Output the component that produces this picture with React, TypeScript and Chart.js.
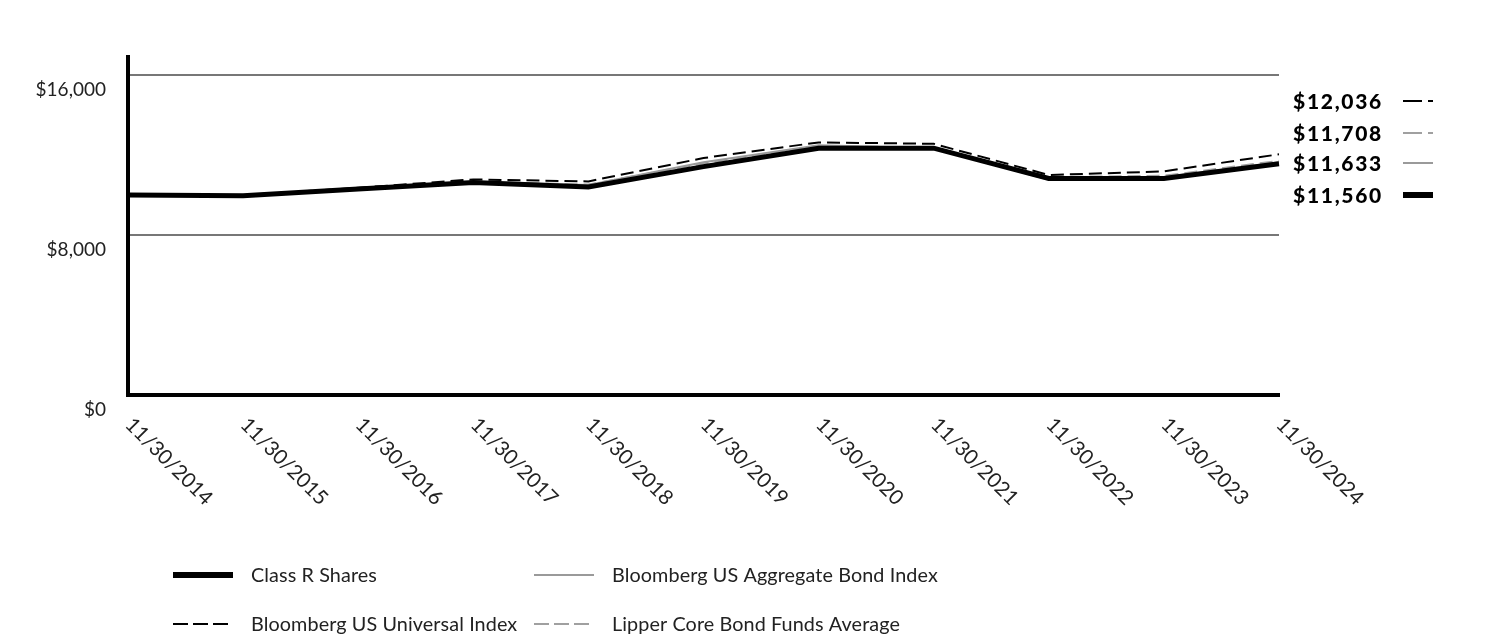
import React, { useEffect, useRef } from 'react';
import { Chart, registerables } from 'chart.js';

Chart.register(...registerables);

const CATEGORIES = [
  '11/30/2014', '11/30/2015', '11/30/2016', '11/30/2017', '11/30/2018', '11/30/2019',
  '11/30/2020', '11/30/2021', '11/30/2022', '11/30/2023', '11/30/2024',
];
const CLASS_R = [10000, 9960, 10300, 10620, 10400, 11420, 12340, 12340, 10830, 10830, 11560];
const AGGREGATE = [10000, 9985, 10316, 10647, 10505, 11639, 12486, 12342, 10757, 10884, 11633];
const UNIVERSAL = [10000, 9990, 10360, 10780, 10680, 11850, 12630, 12560, 11000, 11180, 12036];
const LIPPER = [10000, 9975, 10330, 10680, 10520, 11580, 12440, 12380, 10900, 10960, 11708];
const Y_TICKS = [0, 8000, 16000];
const Y_MAX = 16900;

const SERIES = [
  { name: 'Class R Shares', data: CLASS_R, color: '#000000', width: 5, dash: [] as number[] },
  { name: 'Bloomberg US Aggregate Bond Index', data: AGGREGATE, color: '#9a9a9a', width: 2, dash: [] as number[] },
  { name: 'Bloomberg US Universal Index', data: UNIVERSAL, color: '#000000', width: 2, dash: [13, 6] },
  { name: 'Lipper Core Bond Funds Average', data: LIPPER, color: '#a0a0a0', width: 2, dash: [13, 6] },
];

const FONT = 'Lato, "Open Sans", sans-serif';
const TEXT_COLOR = '#222222';

const fmt = (v: number) => '$' + Math.round(v).toLocaleString('en-US');

const overlayPlugin = {
  id: 'overlay',
  afterDraw(chart: any) {
    const ctx = chart.ctx as CanvasRenderingContext2D;
    const xScale = chart.scales.x;
    const yScale = chart.scales.y;
    ctx.save();
    // rotated x labels
    ctx.fillStyle = TEXT_COLOR;
    ctx.font = `20.5px ${FONT}`;
    ctx.textAlign = 'left';
    ctx.textBaseline = 'top';
    CATEGORIES.forEach((c, i) => {
      const x = xScale.getPixelForValue(i);
      ctx.save();
      ctx.translate(x + 8, yScale.bottom + 19);
      ctx.rotate(Math.PI / 4);
      ctx.fillText(c, 0, 0);
      ctx.restore();
    });

    // end value labels, sorted by final value
    const ends = SERIES.map((s) => ({ s, v: s.data[s.data.length - 1] })).sort((a, b) => b.v - a.v);
    const rowsY = [101, 133, 163, 195];
    ends.forEach((e, i) => {
      const y = rowsY[i];
      ctx.font = `900 21px ${FONT}`;
      (ctx as any).letterSpacing = '1.7px';
      ctx.fillStyle = '#000';
      ctx.textAlign = 'right';
      ctx.textBaseline = 'middle';
      ctx.fillText(fmt(e.v), 1383, y + 1);
      (ctx as any).letterSpacing = '0px';
      ctx.beginPath();
      ctx.strokeStyle = e.s.color;
      ctx.lineWidth = e.s.width === 5 ? 6 : 2;
      ctx.setLineDash(e.s.dash.length ? [19, 6] : []);
      ctx.moveTo(1403, y);
      ctx.lineTo(1433, y);
      ctx.stroke();
      ctx.setLineDash([]);
    });

    // legend
    const legendPos = [
      { x: 173, y: 575 },
      { x: 534, y: 575 },
      { x: 173, y: 624 },
      { x: 534, y: 624 },
    ];
    SERIES.forEach((s, i) => {
      const p = legendPos[i];
      ctx.beginPath();
      ctx.strokeStyle = s.color;
      ctx.lineWidth = s.width === 5 ? 6 : 2;
      ctx.setLineDash(s.dash.length ? [15, 5] : []);
      ctx.moveTo(p.x, p.y);
      ctx.lineTo(p.x + 60, p.y);
      ctx.stroke();
      ctx.setLineDash([]);
      ctx.fillStyle = TEXT_COLOR;
      ctx.font = `19.8px ${FONT}`;
      (ctx as any).letterSpacing = '0.1px';
      ctx.textAlign = 'left';
      ctx.textBaseline = 'middle';
      ctx.fillText(s.name, p.x + 78, p.y + 1);
      (ctx as any).letterSpacing = '0px';
    });
    ctx.restore();
  },
};

export default function App() {
  const ref = useRef<HTMLCanvasElement | null>(null);
  useEffect(() => {
    if (!ref.current) return;
    const chart = new Chart(ref.current, {
      type: 'line',
      data: {
        labels: CATEGORIES,
        datasets: SERIES.map((s, i) => ({
          label: s.name,
          data: s.data,
          borderColor: s.color,
          borderWidth: s.width,
          borderDash: s.dash,
          pointRadius: 0,
          tension: 0,
          fill: false,
          order: i,
          borderJoinStyle: 'miter' as const,
        })),
      },
      options: {
        animation: false,
        responsive: false,
        devicePixelRatio: 1,
        layout: { padding: { left: 0, right: 233, top: 57, bottom: 241 } },
        plugins: { legend: { display: false }, tooltip: { enabled: false } },
        scales: {
          x: {
            type: 'category',
            offset: false,
            grid: { display: false, drawTicks: false },
            border: { display: true, color: '#000', width: 4 },
            ticks: { display: false },
            afterFit: (s: any) => { s.height = 0; },
          },
          y: {
            type: 'linear',
            min: 0,
            max: Y_MAX,
            bounds: 'data',
            afterBuildTicks: (s: any) => { s.ticks = Y_TICKS.map((v) => ({ value: v })); },
            afterFit: (s: any) => { s.width = 128; },
            grid: {
              drawTicks: false,
              color: (c: any) => (c.tick && c.tick.value === 0 ? 'rgba(0,0,0,0)' : '#777777'),
              lineWidth: 2,
            },
            border: { display: true, color: '#000', width: 4 },
            ticks: {
              padding: 22,
              labelOffset: 14.5,
              color: TEXT_COLOR,
              font: { family: FONT, size: 19 },
              callback: (v: any) => fmt(Number(v)),
            },
          },
        },
      },
      plugins: [overlayPlugin],
    });
    return () => chart.destroy();
  }, []);
  return (
    <div style={{ position: 'fixed', left: 0, top: 0, width: 1512, height: 636, background: '#fff' }}>
      <canvas ref={ref} width={1512} height={636} style={{ width: 1512, height: 636, display: 'block' }} />
    </div>
  );
}
